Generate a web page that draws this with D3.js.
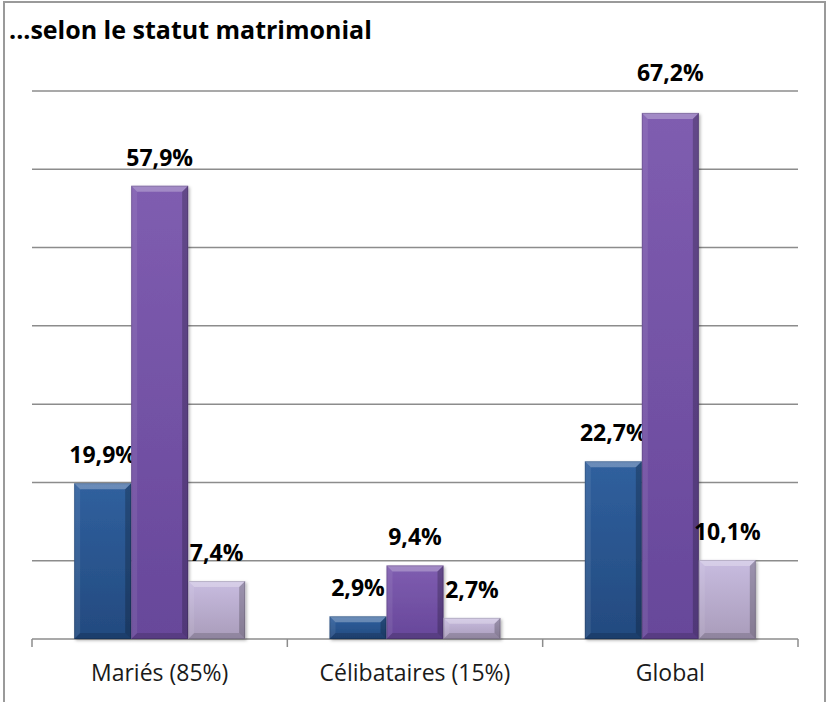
<!DOCTYPE html>
<html>
<head>
<meta charset="utf-8">
<script src="https://cdn.jsdelivr.net/npm/d3@7"></script>
<style>
  body { margin: 0; background: #fff; }
  text { font-family: "Open Sans", "Noto Sans", sans-serif; }
</style>
</head>
<body>
<script>
var categories = ["Mariés (85%)", "Célibataires (15%)", "Global"];
var seriesNames = ["s1", "s2", "s3"];
var values1 = [19.9, 2.9, 22.7];
var values2 = [57.9, 9.4, 67.2];
var values3 = [7.4, 2.7, 10.1];
var yTicks = [0, 10, 20, 30, 40, 50, 60, 70];

var width = 826, height = 702;
var margin = { top: 91, right: 28, bottom: 63, left: 32 };

// colours: top of bar, bottom of bar
var colTop = ["#30609e", "#7f5db0", "#c8bce0"];
var colBot = ["#234a7f", "#67479a", "#a99cba"];

var data = categories.map(function(c, i) {
  return { cat: c, vals: [values1[i], values2[i], values3[i]] };
});

var svg = d3.select("body").append("svg")
    .attr("width", width)
    .attr("height", height);

var defs = svg.append("defs");
seriesNames.forEach(function(s, i) {
  var g = defs.append("linearGradient")
      .attr("id", "grad" + i)
      .attr("x1", 0).attr("y1", 0).attr("x2", 0).attr("y2", 1);
  g.append("stop").attr("offset", "0%").attr("stop-color", colTop[i]);
  g.append("stop").attr("offset", "100%").attr("stop-color", colBot[i]);
});
var sh = defs.append("filter").attr("id", "shadow")
    .attr("x", "-20%").attr("y", "-20%").attr("width", "140%").attr("height", "140%");
sh.append("feDropShadow").attr("dx", 1.5).attr("dy", 1.5).attr("stdDeviation", 1.5)
    .attr("flood-color", "#000").attr("flood-opacity", 0.3);

// frame
svg.append("rect")
    .attr("x", 4).attr("y", 2)
    .attr("width", 821).attr("height", 720)
    .attr("fill", "none")
    .attr("stroke", "#9a9a9a")
    .attr("stroke-width", 2);

svg.append("text")
    .attr("x", 9).attr("y", 39)
    .style("font-size", "25px")
    .style("font-weight", "bold")
    .attr("fill", "#000")
    .text("...selon le statut matrimonial");

var x0 = d3.scaleBand()
    .domain(categories)
    .range([margin.left, width - margin.right])
    .paddingInner(0).paddingOuter(0);

var x1 = d3.scaleBand()
    .domain(seriesNames)
    .range([0, x0.bandwidth()])
    .paddingInner(0)
    .paddingOuter(0.74);

var y = d3.scaleLinear()
    .domain([0, 70])
    .range([height - margin.bottom, margin.top]);

// gridlines
svg.append("g")
    .selectAll("line")
    .data(yTicks)
  .enter().append("line")
    .attr("x1", margin.left)
    .attr("x2", width - margin.right)
    .attr("y1", function(d) { return y(d); })
    .attr("y2", function(d) { return y(d); })
    .attr("stroke", "#8c8c8c")
    .attr("stroke-width", 1.5);

// category axis
var xAxis = d3.axisBottom(x0).tickSize(0).tickPadding(0);
var ax = svg.append("g")
    .attr("transform", "translate(0," + y(0) + ")")
    .call(xAxis);
ax.select(".domain").remove();
ax.selectAll("text")
    .attr("y", 42)
    .attr("dy", 0)
    .style("font-size", "23px")
    .style("font-family", "'Open Sans', sans-serif")
    .attr("fill", "#1a1a1a");

var bounds = categories.map(function(c) { return x0(c); }).concat([width - margin.right]);
ax.selectAll(".sep")
    .data(bounds)
  .enter().append("line")
    .attr("class", "sep")
    .attr("x1", function(d) { return d; })
    .attr("x2", function(d) { return d; })
    .attr("y1", 0).attr("y2", 8)
    .attr("stroke", "#8c8c8c")
    .attr("stroke-width", 1.5);

// bars
var bev = 6;
var groups = svg.append("g").selectAll("g")
    .data(data)
  .enter().append("g")
    .attr("transform", function(d) { return "translate(" + x0(d.cat) + ",0)"; });

var bars = groups.selectAll("g.bar")
    .data(function(d) {
      return d.vals.map(function(v, i) { return { s: seriesNames[i], i: i, v: v }; });
    })
  .enter().append("g")
    .attr("class", "bar");

bars.each(function(d) {
  var g = d3.select(this);
  var bx = x1(d.s), bw = x1.bandwidth();
  var by = y(d.v), bh = y(0) - y(d.v);
  var b = Math.min(bev, bh / 2);
  g.append("rect")
      .attr("x", bx).attr("y", by)
      .attr("width", bw).attr("height", bh)
      .attr("fill", "url(#grad" + d.i + ")")
      .attr("filter", "url(#shadow)");
  // top bevel
  g.append("path")
      .attr("d", "M" + bx + "," + by + "L" + (bx + bw) + "," + by +
                 "L" + (bx + bw - b) + "," + (by + b) + "L" + (bx + b) + "," + (by + b) + "Z")
      .attr("fill", "#fff").attr("fill-opacity", 0.28);
  // left bevel
  g.append("path")
      .attr("d", "M" + bx + "," + by + "L" + (bx + b) + "," + (by + b) +
                 "L" + (bx + b) + "," + (by + bh - b) + "L" + bx + "," + (by + bh) + "Z")
      .attr("fill", "#fff").attr("fill-opacity", 0.08);
  // right bevel
  g.append("path")
      .attr("d", "M" + (bx + bw) + "," + by + "L" + (bx + bw - b) + "," + (by + b) +
                 "L" + (bx + bw - b) + "," + (by + bh - b) + "L" + (bx + bw) + "," + (by + bh) + "Z")
      .attr("fill", "#000").attr("fill-opacity", 0.22);
  // bottom bevel
  g.append("path")
      .attr("d", "M" + bx + "," + (by + bh) + "L" + (bx + b) + "," + (by + bh - b) +
                 "L" + (bx + bw - b) + "," + (by + bh - b) + "L" + (bx + bw) + "," + (by + bh) + "Z")
      .attr("fill", "#000").attr("fill-opacity", 0.15);
  g.append("rect")
      .attr("x", bx + 0.5).attr("y", by + 0.5)
      .attr("width", bw - 1).attr("height", bh - 1)
      .attr("fill", "none")
      .attr("stroke", "#000").attr("stroke-opacity", 0.15);

  // the tallest label sits a little higher in the original
  var off = d.v > 60 ? 32 : 20;
  g.append("text")
      .attr("x", bx + bw / 2)
      .attr("y", by - off)
      .attr("text-anchor", "middle")
      .style("font-size", "23px")
      .style("font-weight", "bold")
      .attr("fill", "#000")
      .text(d3.format(".1f")(d.v).replace(".", ",") + "%");
});
</script>
</body>
</html>
